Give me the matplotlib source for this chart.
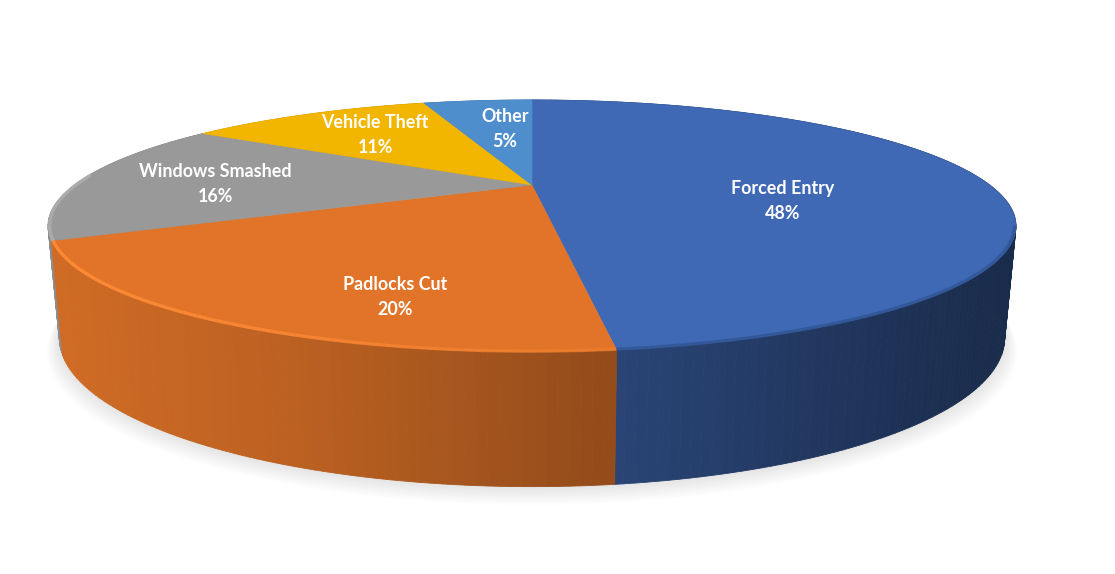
import numpy as np
import matplotlib.pyplot as plt
from matplotlib.collections import LineCollection

# Donnees du graphique
labels = ["Forced Entry", "Padlocks Cut", "Windows Smashed", "Vehicle Theft", "Other"]
values = [48, 20, 16, 11, 5]

# Styles
top_colors = ["#3F69B5", "#E17428", "#999999", "#F2B500", "#4F8ECC"]
rim_colors = ["#2F528F", "#FF8B36", "#B6B6B6", "#F2B500", "#4F8ECC"]
rim_limits = [-0.3, 0.45, 0.1, 0.0, 0.0]
label_x = [783, 395, 215, 375, 505]
label_y = [201, 297, 184, 135, 129]

# Geometrie du disque (en pixels de l'image)
CX = 532
K = 0.325
TOP_A, TOP_B, TOP_Y = 457.7, 112.7, 185.0
BOT_A, BOT_B, BOT_Y = 447.0, 133.0, 289.6


def projeter(angle, a, b, y0, echelle=1.0):
    # angle en degres, sens horaire depuis le haut, avec perspective
    t = np.radians(angle)
    u = np.sin(t) * echelle
    v = np.cos(t) * echelle
    d = 1 + K * v
    return CX + a * u / d, y0 - b * v / d


def assombrir(couleur, x):
    # eclairage du flanc : plus sombre vers la droite
    f = np.interp(x, [60, 300, 613, 1000], [0.92, 0.83, 0.65, 0.42])
    return tuple(c * f for c in plt.matplotlib.colors.to_rgb(couleur))


fig = plt.figure(figsize=(11.15, 5.74), dpi=100)
ax = fig.add_axes([0, 0, 1, 1])
ax.set_xlim(0, 1115)
ax.set_ylim(574, 0)
ax.axis("off")

# Ombre portee floue sous le disque
angles = np.linspace(0, 360, 361)
for i in range(14):
    e = 1.0 + 0.002 * i
    sx, sy = projeter(angles, BOT_A * e, BOT_B * e, BOT_Y + 1.0 * i)
    ax.fill(sx, sy, color="#9a9a9a", alpha=0.02, lw=0, zorder=1)

# Limites des parts
bornes = 3.6 * np.concatenate([[0], np.cumsum(values)])

# Flanc, decoupe en bandes
bandes = []
for i in range(len(values)):
    a = np.arange(bornes[i], bornes[i + 1] + 1.0, 1.0)
    a[-1] = bornes[i + 1]
    for a0, a1 in zip(a[:-1], a[1:]):
        bandes.append((a0, a1, i))
bandes.sort(key=lambda b: -np.cos(np.radians((b[0] + b[1]) / 2)))
for a0, a1, i in bandes:
    x0, y0 = projeter(a0, TOP_A, TOP_B, TOP_Y)
    x1, y1 = projeter(a1, TOP_A, TOP_B, TOP_Y)
    x2, y2 = projeter(a1, BOT_A, BOT_B, BOT_Y)
    x3, y3 = projeter(a0, BOT_A, BOT_B, BOT_Y)
    col = assombrir(top_colors[i], (x0 + x1) / 2)
    ax.fill([x0, x1, x2, x3], [y0, y1, y2, y3], color=col, lw=0.6, zorder=2)

# Dessus du disque
for i in range(len(values)):
    a = np.linspace(bornes[i], bornes[i + 1], 200)
    x, y = projeter(a, TOP_A, TOP_B, TOP_Y)
    ax.fill(np.r_[CX, x], np.r_[TOP_Y, y], color=top_colors[i], lw=0.4, zorder=3)

# Biseau le long du bord avant
for i in range(len(values)):
    a = np.linspace(bornes[i], bornes[i + 1], 120)
    a = a[np.cos(np.radians(a)) < rim_limits[i]]
    if len(a) < 2:
        continue
    x, y = projeter(a, TOP_A, TOP_B, TOP_Y, echelle=0.997)
    seg = np.stack([np.c_[x[:-1], y[:-1]], np.c_[x[1:], y[1:]]], axis=1)
    alpha = np.interp(x[:-1], [60, 613], [1.0, 0.35]) if i == 1 else np.full(len(seg), 0.7)
    cols = [plt.matplotlib.colors.to_rgba(rim_colors[i], al) for al in alpha]
    ax.add_collection(LineCollection(seg, colors=cols, linewidths=2.4, zorder=4))

# Etiquettes
for nom, val, lx, ly in zip(labels, values, label_x, label_y):
    ax.text(lx, ly, f"{nom}\n{val}%", color="white", fontsize=12.9,
            fontweight="bold", family="Lato", ha="center", va="center",
            linespacing=1.55, zorder=5)

plt.savefig("out.png", dpi=100)
